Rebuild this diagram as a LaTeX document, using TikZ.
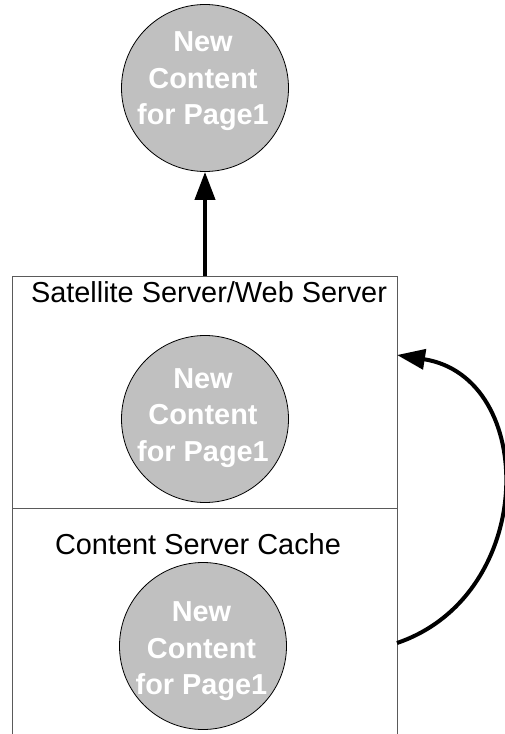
\documentclass[tikz,border=0pt]{standalone}
\usepackage{fontspec}
\setmainfont{Liberation Sans}
\usetikzlibrary{arrows.meta}
\definecolor{circfill}{RGB}{192,192,192}
\definecolor{boxline}{RGB}{90,90,90}
\begin{document}
\begin{tikzpicture}[x=1bp,y=-1bp,
  content/.style={circle,draw=black,line width=0.8bp,fill=circfill,minimum size=167bp,inner sep=0pt},
  ctext/.style={anchor=north,inner sep=0pt,align=center,text=white,font=\fontsize{29}{36.6}\selectfont\bfseries},
  title/.style={anchor=base,inner sep=0pt,font=\fontsize{29}{34}\selectfont},
  boxstyle/.style={draw=boxline,line width=1bp},
  bigarrow/.style={line width=4bp,-{Triangle[length=28bp,width=20bp]}}]
\useasboundingbox (0,0) rectangle (505,734);
% boxes
\draw[boxstyle] (12,276) rectangle (397,508);
\draw[boxstyle] (12,734) -- (12,508);
\draw[boxstyle] (397,508) -- (397,734);
% circles
\node[content] (c1) at (205,88) {};
\node[content] (c2) at (205,419) {};
\node[content] (c3) at (203,646) {};
\node[ctext] (t1) at (203,31.7) {New\\Content\\for Page1};
\node[ctext] (t2) at (203,368.3) {New\\Content\\for Page1};
\node[ctext] (t3) at (201.5,601.7) {New\\Content\\for Page1};
% titles
\node[title] (sat) at (209,302) {Satellite Server/Web Server};
\node[title] (csc) at (198,554) {Content Server Cache};
% connectors
\coordinate (boxtop) at (205,276);
\draw[bigarrow] (boxtop) -- (c1.south);
\coordinate (cs) at (397,643);
\coordinate (ct) at (397,355);
\draw[bigarrow] (cs) .. controls +(141,-48) and +(141,22) .. (ct);
\end{tikzpicture}
\end{document}
